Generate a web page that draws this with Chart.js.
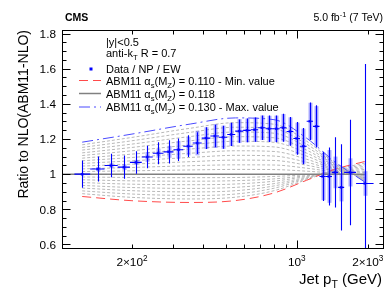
<!DOCTYPE html>
<html>
<head>
<meta charset="utf-8">
<script src="https://cdn.jsdelivr.net/npm/chart.js@4.4.1/dist/chart.umd.min.js"></script>
<style>
  html, body { margin: 0; padding: 0; background: #fff; }
  #wrap { width: 390px; height: 302px; }
</style>
</head>
<body>
<div id="wrap"><canvas id="chart" width="390" height="302"></canvas></div>
<script>
'use strict';

// ─── Data: jet pT bins (GeV) and data/theory ratio ───────────────────────────
const binEdges = [114, 133, 153, 174, 196, 220, 245, 272, 300, 330, 362, 395, 430, 468, 507, 548, 592,
  638, 686, 737, 790, 846, 905, 967, 1032, 1101, 1172, 1248, 1327, 1410, 1497, 1588, 1784, 2116];
const dataPt = [123, 143, 163, 185, 208, 232, 258, 286, 315, 346, 378, 412, 449, 487, 527, 570, 615,
  662, 711, 763, 818, 875, 936, 999, 1066, 1136, 1210, 1287, 1368, 1453, 1542, 1683, 1943];
const dataRatio = [1.000, 1.029, 1.049, 1.040, 1.067, 1.098, 1.119, 1.127, 1.139, 1.159, 1.177, 1.205,
  1.217, 1.210, 1.226, 1.245, 1.249, 1.253, 1.264, 1.258, 1.258, 1.264, 1.243, 1.203, 1.159, 1.301,
  1.272, 0.987, 0.987, 1.010, 0.925, 1.010, 0.947];
const errOuter = [0.078, 0.071, 0.067, 0.066, 0.064, 0.064, 0.062, 0.066, 0.064, 0.062, 0.062, 0.062,
  0.064, 0.066, 0.066, 0.066, 0.067, 0.069, 0.070, 0.075, 0.076, 0.080, 0.082, 0.093, 0.103, 0.107,
  0.120, 0.140, 0.165, 0.200, 0.245, 0.300, 0.680];
const errInner = [0.006, 0.012, 0.014, 0.016, 0.014, 0.028, 0.026, 0.034, 0.050, 0.052, 0.070, 0.062,
  0.068, 0.066, 0.066, 0.068, 0.068, 0.070, 0.070, 0.074, 0.075, 0.078, 0.080, 0.090, 0.100, 0.105,
  0.115, 0.135, 0.150, 0.090, 0.080, 0.080, 0.070];

// ─── ABM11 NLO curves, ratio to alpha_s = 0.118 ──────────────────────────────
const curvePt = [123, 200, 353, 550, 800, 1100, 1450, 1943];
const abmMin = [0.873, 0.849, 0.839, 0.850, 0.893, 0.965, 1.028, 1.072];   // 0.110
const abmMax = [1.182, 1.228, 1.285, 1.320, 1.310, 1.205, 1.070, 0.955];   // 0.130
const refPt = [101, 1943];
const abmRef = [1, 1];                                                     // 0.118
const abmScan = [
  [0.984, 0.981, 0.980, 0.981, 0.987, 0.996, 1.004, 1.009],  // 0.117
  [0.968, 0.962, 0.960, 0.963, 0.973, 0.991, 1.007, 1.018],  // 0.116
  [0.952, 0.943, 0.940, 0.944, 0.960, 0.987, 1.011, 1.027],  // 0.115
  [0.936, 0.924, 0.919, 0.925, 0.946, 0.982, 1.014, 1.036],  // 0.114
  [0.921, 0.906, 0.899, 0.906, 0.933, 0.978, 1.018, 1.045],  // 0.113
  [0.905, 0.887, 0.879, 0.887, 0.920, 0.974, 1.021, 1.054],  // 0.112
  [0.889, 0.868, 0.859, 0.869, 0.906, 0.969, 1.025, 1.063],  // 0.111
  [1.015, 1.019, 1.024, 1.027, 1.026, 1.017, 1.006, 0.996],  // 0.119
  [1.030, 1.038, 1.048, 1.053, 1.052, 1.034, 1.012, 0.993],  // 0.120
  [1.046, 1.057, 1.071, 1.080, 1.078, 1.051, 1.018, 0.989],  // 0.121
  [1.061, 1.076, 1.095, 1.107, 1.103, 1.068, 1.023, 0.985],  // 0.122
  [1.076, 1.095, 1.119, 1.133, 1.129, 1.085, 1.029, 0.981],  // 0.123
  [1.091, 1.114, 1.143, 1.160, 1.155, 1.103, 1.035, 0.978],  // 0.124
  [1.106, 1.133, 1.166, 1.187, 1.181, 1.120, 1.041, 0.974],  // 0.125
  [1.121, 1.152, 1.190, 1.213, 1.207, 1.137, 1.047, 0.970],  // 0.126
  [1.137, 1.171, 1.214, 1.240, 1.233, 1.154, 1.053, 0.966],  // 0.127
  [1.152, 1.190, 1.238, 1.267, 1.258, 1.171, 1.058, 0.963],  // 0.128
  [1.167, 1.209, 1.261, 1.293, 1.284, 1.188, 1.064, 0.959],  // 0.129
];

// ─── Axes ────────────────────────────────────────────────────────────────────
const yTicks = [0.6, 0.8, 1, 1.2, 1.4, 1.6, 1.8];
const yTickLabels = ['0.6', '0.8', '1', '1.2', '1.4', '1.6', '1.8'];
const xMinorTicks = [200, 300, 400, 500, 600, 700, 800, 900, 2000];
const xMajorTicks = [1000];
const xTickLabels = [
  { at: 200, parts: [['2\u00d710', ''], ['2', 'sup']] },
  { at: 1000, parts: [['10', ''], ['3', 'sup']] },
  { at: 2000, parts: [['2\u00d710', ''], ['3', 'sup']] },
];

const FONT = "'Liberation Sans', Arial, Helvetica, sans-serif";
const BLUE = '#0000ff';
const RED = '#ff4a4a';
const ABM_BLUE = '#4a4aff';
const REF_GREY = '#808080';
const SCAN_GREY = '#b8b8b8';

const pts = (xs, ys) => xs.map((x, i) => ({ x, y: ys[i] }));

// ─── Rich text helper (sub/superscripts) ─────────────────────────────────────
function partFont(size, mode, weight) {
  const s = mode ? size * 0.7 : size;
  return `${weight || ''} ${s}px ${FONT}`.trim();
}
function richWidth(ctx, parts, size, weight) {
  let w = 0;
  for (const [t, mode] of parts) {
    ctx.font = partFont(size, mode, weight);
    w += ctx.measureText(t).width;
  }
  return w;
}
function drawRich(ctx, parts, x, y, size, align, weight) {
  const w = richWidth(ctx, parts, size, weight);
  let cx = align === 'right' ? x - w : align === 'center' ? x - w / 2 : x;
  ctx.textAlign = 'left';
  ctx.textBaseline = 'alphabetic';
  for (const [t, mode] of parts) {
    ctx.font = partFont(size, mode, weight);
    const dy = mode === 'sub' ? size * 0.28 : mode === 'sup' ? -size * 0.4 : 0;
    ctx.fillText(t, cx, y + dy);
    cx += ctx.measureText(t).width;
  }
}

// ─── Error bars on the data points ───────────────────────────────────────────
const errorBars = {
  id: 'errorBars',
  afterDatasetsDraw(chart) {
    const { ctx, chartArea: a, scales: { x, y } } = chart;
    ctx.save();
    ctx.beginPath();
    ctx.rect(a.left, a.top, a.right - a.left, a.bottom - a.top);
    ctx.clip();
    for (let i = 0; i < dataPt.length; i++) {
      const px = Math.round(x.getPixelForValue(dataPt[i])) + 0.5;
      const py = y.getPixelForValue(dataRatio[i]);
      const iTop = y.getPixelForValue(dataRatio[i] + errInner[i]);
      const iBot = y.getPixelForValue(dataRatio[i] - errInner[i]);
      ctx.fillStyle = 'rgba(70,70,255,0.45)';
      ctx.fillRect(px - 2, iTop, 4, iBot - iTop);

      ctx.strokeStyle = BLUE;
      ctx.lineWidth = 1.1;
      ctx.beginPath();
      ctx.moveTo(px, y.getPixelForValue(dataRatio[i] + errOuter[i]));
      ctx.lineTo(px, y.getPixelForValue(dataRatio[i] - errOuter[i]));
      ctx.moveTo(x.getPixelForValue(binEdges[i]), py);
      ctx.lineTo(x.getPixelForValue(binEdges[i + 1]), py);
      ctx.stroke();
    }
    ctx.restore();
  }
};

// ─── Frame, ticks, labels, legend ────────────────────────────────────────────
const decor = {
  id: 'decor',
  afterDraw(chart) {
    const { ctx, chartArea: a, scales: { x, y } } = chart;
    ctx.save();
    ctx.strokeStyle = '#000';
    ctx.lineWidth = 1;
    const L = a.left + 0.5, R = a.right + 0.5, T = a.top + 0.5, B = a.bottom + 0.5;
    ctx.strokeRect(L, T, R - L, B - T);

    // y ticks, both sides
    ctx.beginPath();
    for (let v = 0.6; v <= 1.8001; v += 0.05) {
      const py = Math.round(y.getPixelForValue(v)) + 0.5;
      const major = Math.abs(v * 5 - Math.round(v * 5)) < 1e-6;
      const len = major ? 8 : 4;
      ctx.moveTo(L, py); ctx.lineTo(L + len, py);
      ctx.moveTo(R, py); ctx.lineTo(R - len, py);
    }
    // x ticks, bottom and top
    const xt = (list, len) => {
      for (const v of list) {
        const px = Math.round(x.getPixelForValue(v)) + 0.5;
        ctx.moveTo(px, B); ctx.lineTo(px, B - len);
        ctx.moveTo(px, T); ctx.lineTo(px, T + len);
      }
    };
    xt(xMinorTicks, 4);
    xt(xMajorTicks, 8);
    ctx.stroke();

    // tick labels
    ctx.fillStyle = '#000';
    yTicks.forEach((v, i) => {
      drawRich(ctx, [[yTickLabels[i], '']], 56, y.getPixelForValue(v) + 4.2, 11.8, 'right');
    });
    for (const t of xTickLabels) {
      drawRich(ctx, t.parts, x.getPixelForValue(t.at), 266, 11.8, 'center');
    }

    // axis titles
    drawRich(ctx, [['Jet p', ''], ['T', 'sub'], [' (GeV)', '']], 382, 284, 15, 'right');
    ctx.save();
    ctx.translate(28, a.top);
    ctx.rotate(-Math.PI / 2);
    drawRich(ctx, [['Ratio to NLO(ABM11-NLO)', '']], 0, 0, 14, 'right');
    ctx.restore();

    // header
    drawRich(ctx, [['CMS', '']], 65, 21, 10.5, 'left', 'bold');
    drawRich(ctx, [['5.0 fb', ''], ['-1', 'sup'], [' (7 TeV)', '']], 383, 21, 10.5, 'right');

    // legend
    const tx = 106, fs = 11;
    drawRich(ctx, [['|y|<0.5', '']], tx, 46, fs);
    drawRich(ctx, [['anti-k', ''], ['T', 'sub'], [' R = 0.7', '']], tx, 56.5, fs);
    ctx.fillStyle = BLUE;
    ctx.fillRect(89.5, 67.5, 3, 3);
    ctx.fillStyle = '#000';
    drawRich(ctx, [['Data / NP / EW', '']], tx, 72.5, fs);

    const alphaParts = (tail) => [['ABM11 \u03b1', ''], ['s', 'sub'], ['(M', ''], ['Z', 'sub'], [') = ' + tail, '']];
    const sample = (py, color, dash, width) => {
      ctx.save();
      ctx.strokeStyle = color;
      ctx.lineWidth = width;
      ctx.setLineDash(dash);
      ctx.beginPath();
      ctx.moveTo(79, py); ctx.lineTo(101, py);
      ctx.stroke();
      ctx.restore();
    };
    sample(80.5, RED, [9, 5], 1);
    drawRich(ctx, alphaParts('0.110 - Min. value'), tx, 84.5, fs);
    sample(93.5, REF_GREY, [], 1.5);
    drawRich(ctx, alphaParts('0.118'), tx, 97.5, fs);
    sample(107, ABM_BLUE, [11, 4, 2, 4], 1);
    drawRich(ctx, alphaParts('0.130 - Max. value'), tx, 111, fs);
    ctx.restore();
  }
};

// ─── Datasets ────────────────────────────────────────────────────────────────
const curveStyle = { pointRadius: 0, showLine: true, cubicInterpolationMode: 'monotone', fill: false };

const datasets = [
  {
    label: 'Data / NP / EW',
    data: pts(dataPt, dataRatio),
    pointStyle: 'rect',
    pointRadius: 1.8,
    backgroundColor: BLUE,
    borderColor: BLUE,
    borderWidth: 0,
    showLine: false,
    order: 0,
  },
  { label: '0.130', data: pts(curvePt, abmMax), borderColor: ABM_BLUE, borderWidth: 1, borderDash: [11, 4, 2, 4], order: 1, ...curveStyle },
  { label: '0.118', data: pts(refPt, abmRef), borderColor: REF_GREY, borderWidth: 1.5, order: 2, ...curveStyle },
  { label: '0.110', data: pts(curvePt, abmMin), borderColor: RED, borderWidth: 1, borderDash: [9, 5], order: 3, ...curveStyle },
  ...abmScan.map((ys, i) => ({
    label: 'scan ' + i, data: pts(curvePt, ys), borderColor: SCAN_GREY, borderWidth: 1, borderDash: [3, 2], order: 4, ...curveStyle
  })),
];

new Chart(document.getElementById('chart'), {
  type: 'scatter',
  data: { datasets },
  options: {
    responsive: false,
    devicePixelRatio: 1,
    animation: false,
    layout: { padding: { left: 62, top: 30, right: 7, bottom: 54 } },
    plugins: { legend: { display: false }, tooltip: { enabled: false } },
    scales: {
      x: { type: 'logarithmic', min: 101, max: 2320, display: false },
      y: { type: 'linear', min: 0.58, max: 1.82, display: false },
    },
  },
  plugins: [errorBars, decor],
});
</script>
</body>
</html>
